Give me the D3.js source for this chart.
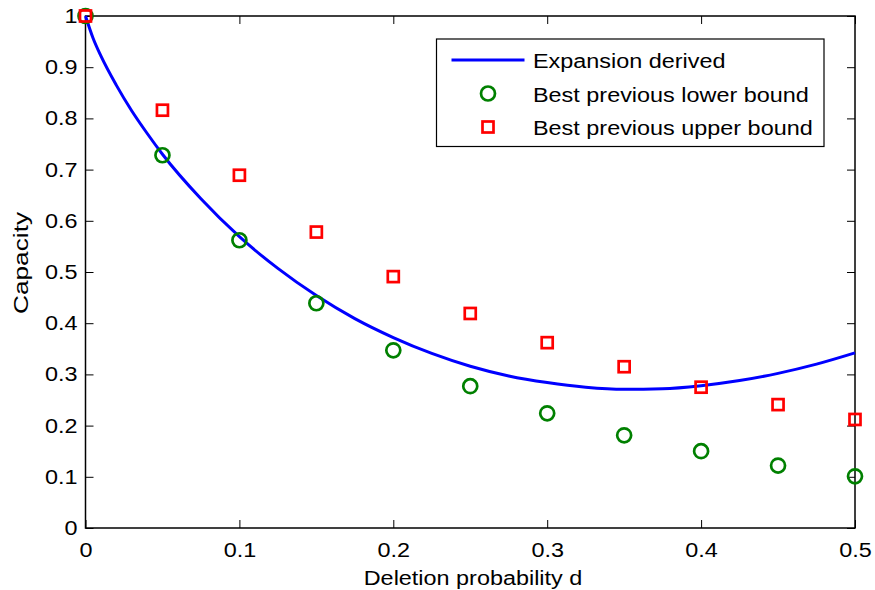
<!DOCTYPE html>
<html>
<head>
<meta charset="utf-8">
<script src="https://cdn.jsdelivr.net/npm/d3@7"></script>
<style>
  body { margin: 0; background: #fff; }
  svg text { font-family: "Liberation Sans", Arial, sans-serif; fill: #000; }
</style>
</head>
<body>
<svg id="chart" width="875" height="590"></svg>
<script>
// deletion probabilities of the previous bounds
const boundD = [0, 0.05, 0.1, 0.15, 0.2, 0.25, 0.3, 0.35, 0.4, 0.45, 0.5];
const lowerBound = [1, 0.728, 0.562, 0.439, 0.347, 0.277, 0.224, 0.181, 0.150, 0.122, 0.101];
const upperBound = [1, 0.816, 0.689, 0.578, 0.491, 0.419, 0.362, 0.315, 0.275, 0.241, 0.212];

// expansion curve
const curveD = [0, 0.005, 0.01, 0.02, 0.03, 0.04, 0.05, 0.075, 0.1, 0.125, 0.15, 0.175, 0.2,
  0.225, 0.25, 0.275, 0.3, 0.325, 0.35, 0.375, 0.4, 0.425, 0.45, 0.475, 0.5];
const curveC = [1, 0.956, 0.922, 0.865, 0.815, 0.771, 0.730, 0.643, 0.569, 0.507, 0.454, 0.409, 0.372,
  0.341, 0.316, 0.297, 0.284, 0.275, 0.271, 0.272, 0.278, 0.288, 0.302, 0.320, 0.342];

const xTicks = [0, 0.1, 0.2, 0.3, 0.4, 0.5];
const yTicks = [0, 0.1, 0.2, 0.3, 0.4, 0.5, 0.6, 0.7, 0.8, 0.9, 1];

const legendLabels = ["Expansion derived", "Best previous lower bound", "Best previous upper bound"];

const width = 875, height = 590;
const fontSize = 20;
const stretchX = 1.17;   // the original text is a bit wider than Liberation Sans

const svg = d3.select("#chart");

const x = d3.scaleLinear().domain([0, 0.5]).range([85.5, 855]);
const y = d3.scaleLinear().domain([0, 1]).range([528, 16]);

const tickLen = 8;

/**
 * Widens text so it takes the same room as in the original
 */
function stretch(sel, factor) {
    sel.each(function () {
        let w = this.getComputedTextLength();
        d3.select(this)
            .attr("textLength", w * factor)
            .attr("lengthAdjust", "spacingAndGlyphs");
    });
}

// axes, ticks pointing inward on all four sides
function styleAxis(g) {
    g.select(".domain").remove();
    g.selectAll(".tick line").attr("stroke", "#000").attr("stroke-width", 1);
    g.selectAll(".tick text").style("font-size", fontSize + "px");
}

svg.append("g")
    .attr("transform", "translate(0," + y(0) + ")")
    .call(d3.axisBottom(x).tickValues(xTicks).tickFormat(d3.format("")).tickSizeInner(-tickLen).tickPadding(15))
    .call(styleAxis);

svg.append("g")
    .attr("transform", "translate(0," + y(1) + ")")
    .call(d3.axisTop(x).tickValues(xTicks).tickFormat("").tickSizeInner(-tickLen))
    .call(styleAxis);

svg.append("g")
    .attr("transform", "translate(" + x(0) + ",0)")
    .call(d3.axisLeft(y).tickValues(yTicks).tickFormat(d3.format("")).tickSizeInner(-tickLen).tickPadding(8))
    .call(styleAxis);

svg.append("g")
    .attr("transform", "translate(" + x(0.5) + ",0)")
    .call(d3.axisRight(y).tickValues(yTicks).tickFormat("").tickSizeInner(-tickLen))
    .call(styleAxis);

// frame
svg.append("rect")
    .attr("x", x(0)).attr("y", y(1))
    .attr("width", x(0.5) - x(0)).attr("height", y(0) - y(1))
    .attr("fill", "none").attr("stroke", "#000").attr("stroke-width", 1.5);

// axis labels
svg.append("text")
    .attr("class", "wide")
    .attr("x", 473).attr("y", 585)
    .attr("text-anchor", "middle")
    .style("font-size", fontSize + "px")
    .text("Deletion probability d");

svg.append("text")
    .attr("id", "ylabel")
    .attr("transform", "translate(28,263) rotate(-90)")
    .attr("text-anchor", "middle")
    .style("font-size", "21px")
    .text("Capacity");

// expansion curve
const line = d3.line()
    .x(function (d, i) { return x(curveD[i]); })
    .y(function (d) { return y(d); })
    .curve(d3.curveMonotoneX);

svg.append("path")
    .datum(curveC)
    .attr("d", line)
    .attr("fill", "none")
    .attr("stroke", "#0000ff")
    .attr("stroke-width", 3);

// lower bound circles
const r = 7;
svg.append("g").selectAll("circle")
    .data(lowerBound)
    .join("circle")
    .attr("cx", function (d, i) { return x(boundD[i]); })
    .attr("cy", function (d) { return y(d); })
    .attr("r", r)
    .attr("fill", "none")
    .attr("stroke", "#008000")
    .attr("stroke-width", 2.7);

// upper bound squares
const sq = 11;
svg.append("g").selectAll("rect")
    .data(upperBound)
    .join("rect")
    .attr("x", function (d, i) { return x(boundD[i]) - sq / 2; })
    .attr("y", function (d) { return y(d) - sq / 2; })
    .attr("width", sq).attr("height", sq)
    .attr("fill", "none")
    .attr("stroke", "#ff0000")
    .attr("stroke-width", 2.7);

// legend
const legend = svg.append("g").attr("transform", "translate(436.5,39)");
legend.append("rect")
    .attr("width", 387.5).attr("height", 107.5)
    .attr("fill", "#fff").attr("stroke", "#000").attr("stroke-width", 1.2);

const rowY = [21, 54.5, 88];
legend.selectAll("text")
    .data(legendLabels)
    .join("text")
    .attr("class", "wide")
    .attr("x", 96.5)
    .attr("y", function (d, i) { return rowY[i] + 8; })
    .style("font-size", fontSize + "px")
    .text(function (d) { return d; });

legend.append("line")
    .attr("x1", 15).attr("x2", 88)
    .attr("y1", rowY[0]).attr("y2", rowY[0])
    .attr("stroke", "#0000ff").attr("stroke-width", 3);

legend.append("circle")
    .attr("cx", 51.5).attr("cy", rowY[1]).attr("r", r)
    .attr("fill", "none").attr("stroke", "#008000").attr("stroke-width", 2.7);

legend.append("rect")
    .attr("x", 51.5 - sq / 2).attr("y", rowY[2] - sq / 2)
    .attr("width", sq).attr("height", sq)
    .attr("fill", "none").attr("stroke", "#ff0000").attr("stroke-width", 2.7);

// widen the texts
stretch(svg.selectAll(".tick text, text.wide"), stretchX);
stretch(svg.select("#ylabel"), 1.25);
</script>
</body>
</html>
